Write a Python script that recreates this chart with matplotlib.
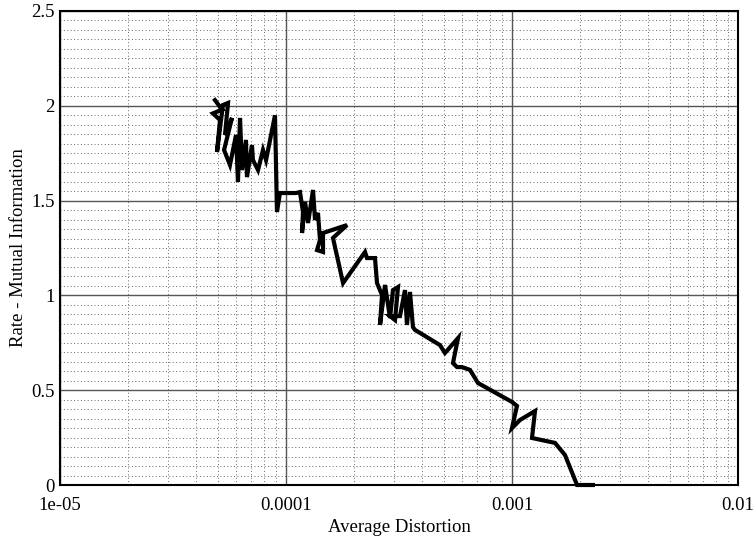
import matplotlib
matplotlib.use("Agg")
import matplotlib.pyplot as plt
from matplotlib.ticker import LogLocator, MultipleLocator, FixedLocator, FixedFormatter, NullFormatter

plt.rcParams['font.family'] = ['Liberation Serif', 'DejaVu Serif']

# Average distortion (x) and rate / mutual information (y)
distortion = [4.85e-5, 5.21e-5, 4.75e-5, 5.105e-5, 4.95e-5, 5.26e-5, 5.54e-5, 5.37e-5,
              5.77e-5, 5.32e-5, 5.65e-5, 6.01e-5, 6.13e-5, 6.26e-5, 6.39e-5, 6.65e-5,
              6.72e-5, 7.07e-5, 7.14e-5, 7.52e-5, 7.91e-5, 8.16e-5, 8.94e-5, 9.12e-5,
              9.40e-5, 1.107e-4, 1.153e-4, 1.189e-4, 1.177e-4, 1.214e-4, 1.252e-4, 1.317e-4,
              1.344e-4, 1.385e-4, 1.414e-4, 1.372e-4, 1.458e-4, 1.458e-4, 1.862e-4, 1.614e-4,
              1.788e-4, 2.237e-4, 2.282e-4, 2.476e-4, 2.528e-4, 2.66e-4, 2.606e-4, 2.742e-4,
              2.886e-4, 2.974e-4, 3.13e-4, 3.036e-4, 2.886e-4, 3.194e-4, 3.361e-4, 3.43e-4,
              3.537e-4, 3.646e-4, 3.722e-4, 4.80e-4, 5.05e-4, 5.77e-4, 5.48e-4, 5.71e-4,
              6.01e-4, 6.52e-4, 7.07e-4, 1.0e-3, 1.052e-3, 1.0e-3, 1.085e-3, 1.264e-3,
              1.226e-3, 1.55e-3, 1.716e-3, 1.94e-3, 2.28e-3]
rate = [2.03, 1.98, 1.96, 1.925, 1.756, 2.004, 2.015, 1.846,
        1.936, 1.767, 1.688, 1.846, 1.598, 1.936, 1.661, 1.82,
        1.624, 1.793, 1.714, 1.661, 1.767, 1.714, 1.95, 1.44,
        1.54, 1.54, 1.545, 1.44, 1.329, 1.493, 1.382, 1.556,
        1.398, 1.435, 1.292, 1.239, 1.229, 1.329, 1.371, 1.303,
        1.065, 1.229, 1.197, 1.197, 1.065, 1.002, 0.844, 1.055,
        0.881, 1.028, 1.044, 0.870, 0.891, 0.891, 1.028, 0.844,
        1.018, 0.833, 0.818, 0.738, 0.696, 0.775, 0.643, 0.622,
        0.622, 0.607, 0.538, 0.438, 0.417, 0.30, 0.343, 0.39,
        0.248, 0.222, 0.158, 0.0, 0.0]

x_ticks = [1e-5, 1e-4, 1e-3, 1e-2]
x_tick_labels = ["1e-05", "0.0001", "0.001", "0.01"]
y_ticks = [0, 0.5, 1, 1.5, 2, 2.5]
y_tick_labels = ["0", "0.5", "1", "1.5", "2", "2.5"]

fig = plt.figure(figsize=(7.56, 5.40), dpi=100)
ax = fig.add_axes([60/756, 1-485/540, (738-60)/756, (485-11)/540])

ax.set_xscale('log')
ax.set_xlim(1e-5, 1e-2)
ax.set_ylim(0, 2.5)

ax.xaxis.set_major_locator(FixedLocator(x_ticks))
ax.xaxis.set_major_formatter(FixedFormatter(x_tick_labels))
ax.xaxis.set_minor_locator(LogLocator(base=10, subs=range(2, 10)))
ax.xaxis.set_minor_formatter(NullFormatter())
ax.yaxis.set_major_locator(FixedLocator(y_ticks))
ax.yaxis.set_major_formatter(FixedFormatter(y_tick_labels))
ax.yaxis.set_minor_locator(MultipleLocator(0.05))

ax.grid(which='minor', color='#666666', linestyle=(0, (1, 2.5)), linewidth=0.7)
ax.grid(which='major', color='#555555', linestyle='-', linewidth=1.0)
ax.set_axisbelow(True)

ax.tick_params(which='both', length=0, labelsize=13.5)
ax.tick_params(axis='x', pad=9)
ax.tick_params(axis='y', pad=4)

for s in ax.spines.values():
    s.set_linewidth(1.5)
    s.set_color('black')

ax.plot(distortion, rate, color='black', linewidth=3, solid_joinstyle='miter', clip_on=False, zorder=5)

ax.set_xlabel("Average Distortion", fontsize=13.5, labelpad=3)
fig.text(18.5/756, 1-248/540, "Rate - Mutual Information", fontsize=13.5,
         rotation=90, ha='center', va='center')

fig.savefig("out.png", dpi=100)
